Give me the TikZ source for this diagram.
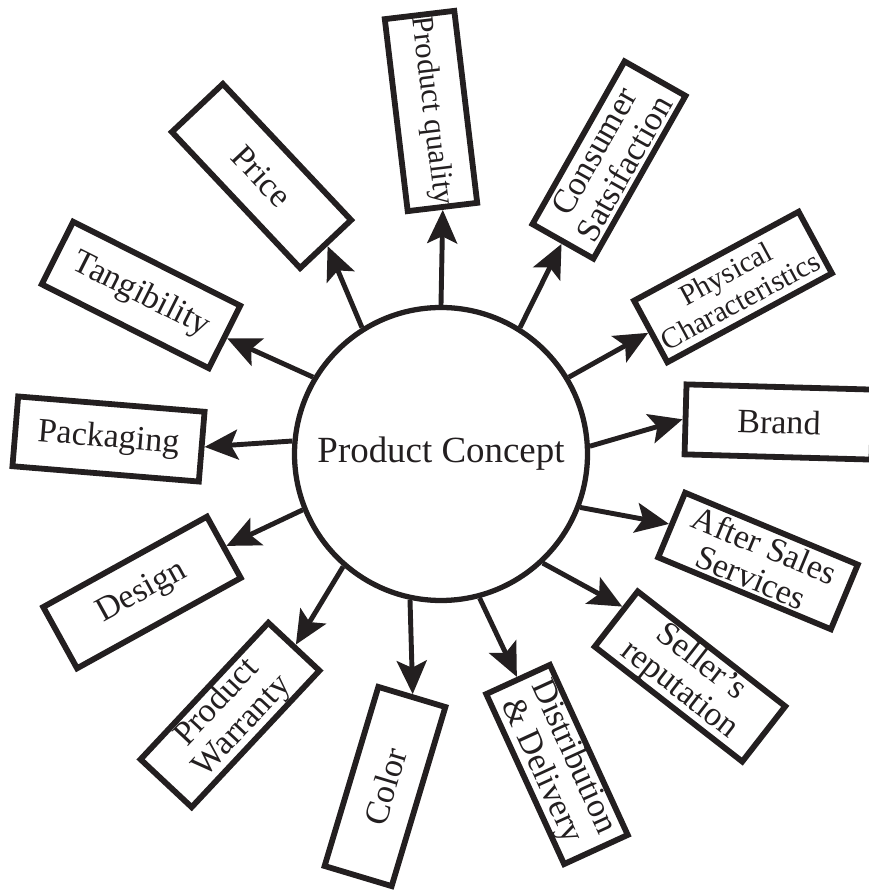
\documentclass[tikz,border=0pt]{standalone}
\usepackage{fontspec}
\setmainfont{Liberation Serif}
\usetikzlibrary{arrows.meta}
\definecolor{ink}{HTML}{231F20}
\begin{document}
\begin{tikzpicture}
\tikzstyle{hub}=[circle,draw=ink,line width=3pt,fill=white,minimum size=5.86cm,inner sep=0pt,font=\fontsize{21}{24}\selectfont,text=ink]
\tikzstyle{box}=[rectangle,draw=ink,line width=3.3pt,minimum width=3.74cm,minimum height=1.4cm,inner sep=1pt,align=center,font=\fontsize{19.4}{19.8}\selectfont,text=ink]
\tikzstyle{link}=[draw=ink,line width=2.8pt,-{Stealth[length=19pt,width=17pt,inset=4pt]}]
\useasboundingbox (0,0) rectangle (17.38,17.8);
\node[hub] (pc) at (8.82,8.72) {Product Concept};
\node[box,rotate=-46.7] (price) at (5.23,14.28) {Price};
\node[box,rotate=-83.2,font=\fontsize{17.6}{18}\selectfont] (quality) at (8.62,15.58) {Product quality};
\node[box,rotate=60.5] (consumer) at (12.18,14.60) {Consumer\\Satsifaction};
\node[box,rotate=28.4,font=\fontsize{16.8}{17.5}\selectfont] (physical) at (14.66,12.06) {Physical\\Characteristics};
\node[box,rotate=-1.6] (brand) at (15.58,9.36) {Brand};
\node[box,rotate=-22.6] (aftersales) at (15.16,6.58) {After Sales\\Services};
\node[box,rotate=-37.9] (seller) at (13.80,4.27) {Seller’s\\reputation};
\node[box,rotate=-65.4] (distrib) at (11.14,2.51) {Distribution\\\& Delivery};
\node[box,rotate=73.3] (color) at (7.70,2.07) {Color};
\node[box,rotate=46.9] (warranty) at (4.60,3.50) {Product\\Warranty};
\node[box,rotate=28.9] (design) at (2.84,5.95) {Design};
\node[box,rotate=-4.7] (packaging) at (2.17,9.02) {Packaging};
\node[box,rotate=-26.7] (tangible) at (2.82,11.90) {Tangibility};
\draw[link] (pc.122) -- (price.east);
\draw[link] (pc.90.4) -- (quality.east);
\draw[link] (pc.58.3) -- (consumer.west);
\draw[link] (pc.31.5) -- (physical.west);
\draw[link] (pc.3.5) -- (brand.west);
\draw[link] (pc.-21.7) -- (aftersales.west);
\draw[link] (pc.-47.9) -- (seller.172);
\draw[link] (pc.-75) -- (distrib.west);
\draw[link] (pc.-102.7) -- (color.east);
\draw[link] (pc.-131) -- (warranty.east);
\draw[link] (pc.202.8) -- (design.east);
\draw[link] (pc.175.4) -- (packaging.east);
\draw[link] (pc.149) -- (tangible.east);
\end{tikzpicture}
\end{document}
